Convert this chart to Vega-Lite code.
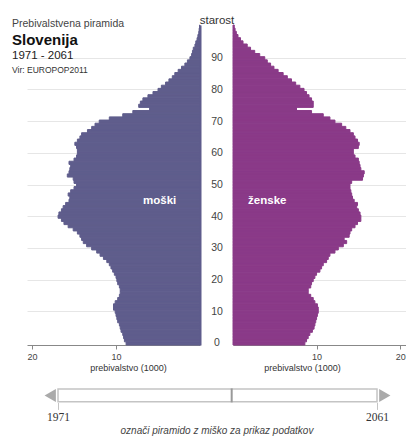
{
  "$schema": "https://vega.github.io/schema/vega-lite/v6.json",
  "background": "white",
  "padding": {"left": 12, "top": 14, "right": 0, "bottom": 0},
  "config": {
    "view": {"stroke": null},
    "font": "Liberation Sans",
    "axis": {"domainColor": "#888", "tickColor": "#888", "labelColor": "#444", "titleColor": "#333", "titleFontWeight": "normal"}
  },
  "columns": 2,
  "align": "none",
  "bounds": "flush",
  "spacing": {"row": 43.4, "column": 33},
  "title": {
    "text": "Prebivalstvena piramida",
    "subtitle": "Slovenija",
    "anchor": "start",
    "frame": "group",
    "dx": -15,
    "offset": -33,
    "fontSize": 10.5,
    "fontWeight": "normal",
    "color": "#444",
    "subtitleFontSize": 15,
    "subtitleFontWeight": "bold",
    "subtitleColor": "#111",
    "subtitlePadding": 3,
    "subtitleFont": "Liberation Sans"
  },
  "datasets": {
    "pop": [
      {"age":0,"m":8.8,"f":8.6},{"age":1,"m":9.0,"f":8.8},{"age":2,"m":9.1,"f":9.0},{"age":3,"m":9.2,"f":9.2},{"age":4,"m":9.4,"f":9.5},
      {"age":5,"m":9.5,"f":9.7},{"age":6,"m":9.6,"f":9.8},{"age":7,"m":9.8,"f":9.9},{"age":8,"m":9.9,"f":10.0},{"age":9,"m":10.0,"f":10.1},
      {"age":10,"m":10.1,"f":10.2},{"age":11,"m":10.3,"f":10.2},{"age":12,"m":10.3,"f":10.1},{"age":13,"m":10.1,"f":9.8},{"age":14,"m":9.8,"f":9.6},
      {"age":15,"m":9.6,"f":9.3},{"age":16,"m":9.5,"f":9.0},{"age":17,"m":9.5,"f":9.0},{"age":18,"m":9.6,"f":9.3},{"age":19,"m":9.8,"f":9.4},
      {"age":20,"m":9.9,"f":9.6},{"age":21,"m":10.0,"f":9.8},{"age":22,"m":10.2,"f":10.0},{"age":23,"m":10.4,"f":10.4},{"age":24,"m":10.6,"f":10.6},
      {"age":25,"m":10.8,"f":10.8},{"age":26,"m":11.1,"f":11.2},{"age":27,"m":11.5,"f":11.4},{"age":28,"m":11.9,"f":11.6},{"age":29,"m":12.3,"f":12.2},
      {"age":30,"m":12.9,"f":12.6},{"age":31,"m":13.5,"f":13.2},{"age":32,"m":13.9,"f":13.6},{"age":33,"m":14.1,"f":13.3},{"age":34,"m":14.3,"f":13.9},
      {"age":35,"m":14.6,"f":14.0},{"age":36,"m":15.1,"f":14.2},{"age":37,"m":15.7,"f":14.6},{"age":38,"m":16.2,"f":14.9},{"age":39,"m":16.5,"f":15.3},
      {"age":40,"m":16.9,"f":15.3},{"age":41,"m":16.8,"f":15.2},{"age":42,"m":16.5,"f":15.0},{"age":43,"m":16.3,"f":14.8},{"age":44,"m":16.0,"f":14.9},
      {"age":45,"m":15.6,"f":14.5},{"age":46,"m":15.5,"f":14.3},{"age":47,"m":15.7,"f":14.2},{"age":48,"m":15.4,"f":14.1},{"age":49,"m":15.0,"f":14.0},
      {"age":50,"m":14.7,"f":14.0},{"age":51,"m":15.0,"f":14.2},{"age":52,"m":15.1,"f":15.5},{"age":53,"m":15.8,"f":15.6},{"age":54,"m":15.6,"f":15.7},
      {"age":55,"m":15.5,"f":15.3},{"age":56,"m":15.4,"f":15.2},{"age":57,"m":15.6,"f":15.1},{"age":58,"m":15.0,"f":15.0},{"age":59,"m":14.7,"f":14.6},
      {"age":60,"m":14.6,"f":14.4},{"age":61,"m":14.6,"f":14.4},{"age":62,"m":14.7,"f":15.0},{"age":63,"m":14.9,"f":15.1},{"age":64,"m":14.6,"f":14.9},
      {"age":65,"m":14.3,"f":14.6},{"age":66,"m":14.1,"f":14.4},{"age":67,"m":13.4,"f":14.0},{"age":68,"m":12.9,"f":13.5},{"age":69,"m":12.5,"f":13.0},
      {"age":70,"m":12.0,"f":12.2},{"age":71,"m":10.8,"f":11.6},{"age":72,"m":9.2,"f":10.8},{"age":73,"m":8.0,"f":9.4},{"age":74,"m":6.0,"f":7.6},
      {"age":75,"m":7.3,"f":9.6},{"age":76,"m":7.1,"f":9.6},{"age":77,"m":6.8,"f":9.4},{"age":78,"m":6.2,"f":9.1},{"age":79,"m":5.6,"f":8.8},
      {"age":80,"m":5.0,"f":8.5},{"age":81,"m":4.6,"f":8.0},{"age":82,"m":4.1,"f":7.5},{"age":83,"m":3.7,"f":7.0},{"age":84,"m":3.3,"f":6.5},
      {"age":85,"m":3.0,"f":6.0},{"age":86,"m":2.6,"f":5.4},{"age":87,"m":2.2,"f":4.9},{"age":88,"m":1.8,"f":4.5},{"age":89,"m":1.5,"f":4.1},
      {"age":90,"m":1.2,"f":3.8},{"age":91,"m":1.0,"f":3.2},{"age":92,"m":0.9,"f":2.6},{"age":93,"m":0.8,"f":2.1},{"age":94,"m":0.6,"f":1.7},
      {"age":95,"m":0.5,"f":1.2},{"age":96,"m":0.35,"f":0.9},{"age":97,"m":0.25,"f":0.6},{"age":98,"m":0.15,"f":0.4},{"age":99,"m":0.1,"f":0.25},
      {"age":100,"m":0.05,"f":0.15}
    ]
  },
  "concat": [
    {
      "width": 173,
      "height": 320,
      "title": {
        "text": "1971 - 2061",
        "subtitle": "Vir: EUROPOP2011",
        "anchor": "start",
        "frame": "group",
        "dx": -15,
        "offset": -50,
        "fontSize": 11.5,
        "fontWeight": "normal",
        "color": "#222",
        "subtitleFontSize": 8.5,
        "subtitleColor": "#333",
        "subtitlePadding": 5,
        "subtitleFont": "Liberation Sans"
      },
      "layer": [
        {
          "data": {"name": "pop"},
          "mark": {"type": "bar", "color": "#5f5d8c", "stroke": "#5f5d8c", "strokeWidth": 1},
          "encoding": {
            "y": {
              "field": "age", "type": "ordinal",
              "scale": {"reverse": true, "paddingInner": 0, "paddingOuter": 0},
              "axis": {"orient": "right", "labels": false, "ticks": false, "domain": true, "domainColor": "#5f5d8c", "domainWidth": 2, "grid": true, "gridColor": "#e6e6e6", "values": [10,20,30,40,50,60,70,80,90], "title": null}
            },
            "x": {
              "field": "m", "type": "quantitative",
              "scale": {"domain": [0, 20.6], "reverse": true, "nice": false},
              "axis": {"values": [10, 20], "grid": false, "title": "prebivalstvo (1000)", "titleFontSize": 9, "titlePadding": 2, "titleX": 101, "labelFontSize": 9, "tickSize": 4, "labelPadding": 3, "labelFlush": false}
            }
          }
        },
        {
          "data": {"values": [{"label": "moški"}]},
          "mark": {"type": "text", "color": "white", "fontWeight": "bold", "fontSize": 11.5},
          "encoding": {
            "x": {"datum": 4.8, "type": "quantitative"},
            "y": {"datum": 45, "type": "ordinal"},
            "text": {"field": "label"}
          }
        }
      ]
    },
    {
      "width": 173,
      "height": 320,
      "layer": [
        {
          "data": {"name": "pop"},
          "mark": {"type": "bar", "color": "#8a3a88", "stroke": "#8a3a88", "strokeWidth": 1},
          "encoding": {
            "y": {
              "field": "age", "type": "ordinal",
              "scale": {"reverse": true, "paddingInner": 0, "paddingOuter": 0},
              "axis": {"orient": "left", "labelAlign": "center", "labelPadding": 16.5, "ticks": false, "domain": false, "labelFontSize": 10.5, "labelColor": "#444",
                "title": "starost", "titleAngle": 0, "titleX": -16.5, "titleY": -10.4, "titleAlign": "center", "titleBaseline": "top", "titleFontSize": 11.5, "titleColor": "#333",
                "values": [0,10,20,30,40,50,60,70,80,90], "grid": true, "gridColor": {"condition": {"test": "datum.value === 0", "value": "transparent"}, "value": "#e6e6e6"}}
            },
            "x": {
              "field": "f", "type": "quantitative",
              "scale": {"domain": [0, 20.7], "nice": false},
              "axis": {"values": [10, 20], "grid": false, "title": "prebivalstvo (1000)", "titleFontSize": 9, "titlePadding": 2, "titleX": 69, "labelFontSize": 9, "tickSize": 4, "labelPadding": 3, "labelFlush": false}
            }
          }
        },
        {
          "data": {"values": [{"label": "ženske"}]},
          "mark": {"type": "text", "color": "white", "fontWeight": "bold", "fontSize": 11.5},
          "encoding": {
            "x": {"datum": 4.1, "type": "quantitative"},
            "y": {"datum": 45, "type": "ordinal"},
            "text": {"field": "label"}
          }
        }
      ]
    },
    {
      "width": 173,
      "height": 14,
      "data": {"values": [{"start": 1971, "end": 2061, "year": 2020}]},
      "layer": [
        {
          "mark": {"type": "bar", "fill": "white", "stroke": "#c4c4c4", "strokeWidth": 1.5},
          "encoding": {
            "x": {
              "field": "start", "type": "quantitative",
              "scale": {"domain": [1962.25, 2069.18], "range": [0, 379], "nice": false, "zero": false},
              "axis": {"values": [1971, 2061], "format": "d", "grid": false, "domain": false, "labelFont": "Liberation Serif", "labelFontSize": 11.5, "labelColor": "#333", "tickColor": "#c4c4c4", "tickSize": 7, "labelPadding": 2, "labelFlush": false,
                "title": "označi piramido z miško za prikaz podatkov", "titleX": 189.5, "titleFontStyle": "italic", "titleFontSize": 10, "titleColor": "#444", "titlePadding": 3}
            },
            "x2": {"field": "end"}
          }
        },
        {
          "mark": {"type": "rule", "color": "#999", "strokeWidth": 2},
          "encoding": {"x": {"field": "year", "type": "quantitative"}}
        },
        {
          "mark": {"type": "point", "shape": "triangle-left", "filled": true, "color": "#aaa", "opacity": 1, "size": 170},
          "encoding": {"x": {"datum": 1968.8, "type": "quantitative"}}
        },
        {
          "mark": {"type": "point", "shape": "triangle-right", "filled": true, "color": "#aaa", "opacity": 1, "size": 170},
          "encoding": {"x": {"datum": 2063.2, "type": "quantitative"}}
        }
      ]
    }
  ]
}
